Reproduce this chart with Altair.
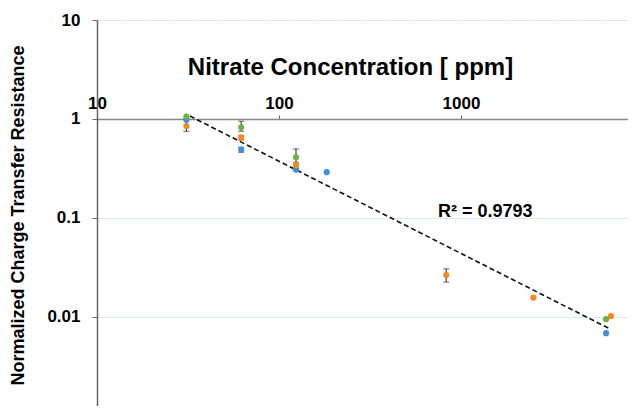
import altair as alt
import pandas as pd

# ---- data ----
blue_x = [31, 62, 124, 183, 6270]
blue_y = [0.984, 0.49, 0.308, 0.29, 0.00686]
orange_x = [31, 62, 124, 830, 2500, 6670]
orange_y = [0.85, 0.647, 0.343, 0.0265, 0.0157, 0.0102]
green_x = [31, 62, 124, 6270]
green_y = [1.055, 0.824, 0.41, 0.0095]

err_series = ["orange", "green", "orange", "blue", "green", "orange", "orange"]
err_x = [31, 62, 62, 62, 124, 124, 830]
err_lo = [0.75, 0.751, 0.614, 0.461, 0.343, 0.32, 0.0225]
err_hi = [1.0, 0.948, 0.684, 0.518, 0.498, 0.365, 0.0306]

trend_x = [32.4, 6590]
trend_y = [1.07, 0.00757]

r2_label = ["R\u00b2 = 0.9793"]
r2_x = [748]
r2_y = [0.115]

series_names = ["blue", "orange", "green"]
series_colors = ["#3d8fe0", "#f5891f", "#72b043"]

x_ticks = [10, 100, 1000]
y_ticks = [0.01, 0.1, 1, 10]

# ---- tables ----
pts = pd.DataFrame(
    {"series": ["blue"] * len(blue_x) + ["orange"] * len(orange_x) + ["green"] * len(green_x),
     "x": blue_x + orange_x + green_x,
     "y": blue_y + orange_y + green_y}
)
errs = pd.DataFrame({"series": err_series, "x": err_x, "lo": err_lo, "hi": err_hi})
trend = pd.DataFrame({"x": trend_x, "y": trend_y})
r2 = pd.DataFrame({"label": r2_label, "x": r2_x, "y": r2_y})

FONT = "Liberation Sans"

xscale = alt.Scale(type="log", domain=[10, 8275], nice=False)
yscale = alt.Scale(type="log", domain=[0.00126, 10], nice=False)

x_enc = alt.X(
    "x:Q", scale=xscale,
    axis=alt.Axis(
        orient="top", offset=-99, values=x_ticks, format="~g", grid=False,
        title="Nitrate Concentration [ ppm]", titleFont=FONT, titleFontSize=24,
        titleFontWeight="bold", titleColor="#000", titleX=253, titleY=-52,
        titleAlign="center", titleBaseline="middle",
        labelFont=FONT, labelFontSize=17, labelFontWeight="bold", labelColor="#000",
        labelFlush=False, labelPadding=3, labelOverlap=False,
        domainColor="#888", domainWidth=1.3, tickColor="#666", tickSize=4,
    ),
)
y_enc = alt.Y(
    "y:Q", scale=yscale,
    axis=alt.Axis(
        values=y_ticks, format="~g", grid=True, gridColor="#c6dcf0", gridDash=[2, 1],
        gridWidth=1,
        title="Normalized Charge Transfer Resistance", titleFont=FONT, titleFontSize=18,
        titleFontWeight="bold", titleColor="#000", titleAngle=270, titleX=-79, titleY=195,
        titleAlign="center", titleBaseline="middle",
        labelFont=FONT, labelFontSize=17, labelFontWeight="bold", labelColor="#000",
        labelPadding=12, labelFlush=False, labelOverlap=False,
        domainColor="#666", domainWidth=1.5, tickColor="#666", tickSize=5,
    ),
)

color_enc = alt.Color("series:N", scale=alt.Scale(domain=series_names, range=series_colors), legend=None)

base_trend = alt.Chart(trend).mark_line(color="#111", strokeWidth=1.6, strokeDash=[5, 3]).encode(
    x=x_enc, y=y_enc
)

err_rules = alt.Chart(errs).mark_rule(color="#444", strokeWidth=1.2).encode(
    x=alt.X("x:Q", scale=xscale), y=alt.Y("lo:Q", scale=yscale), y2="hi:Q"
)
err_lo_tick = alt.Chart(errs).mark_tick(color="#444", thickness=1.2, size=6, orient="horizontal").encode(
    x=alt.X("x:Q", scale=xscale), y=alt.Y("lo:Q", scale=yscale)
)
err_hi_tick = alt.Chart(errs).mark_tick(color="#444", thickness=1.2, size=6, orient="horizontal").encode(
    x=alt.X("x:Q", scale=xscale), y=alt.Y("hi:Q", scale=yscale)
)

points = alt.Chart(pts).mark_circle(size=38, opacity=1).encode(
    x=alt.X("x:Q", scale=xscale), y=alt.Y("y:Q", scale=yscale), color=color_enc
)

r2_text = alt.Chart(r2).mark_text(
    font=FONT, fontSize=18, fontWeight="bold", color="#000", align="left", baseline="middle"
).encode(x=alt.X("x:Q", scale=xscale), y=alt.Y("y:Q", scale=yscale), text="label:N")

chart = (
    alt.layer(base_trend, err_rules, err_lo_tick, err_hi_tick, points, r2_text)
    .properties(
        width=531, height=386,
        autosize=alt.AutoSizeParams(type="none"),
        padding={"left": 89, "top": 12, "right": 0, "bottom": 0},
        background="white",
    )
    .configure_view(stroke=None)
)

chart.save("out.html", embed_options={"renderer": "svg", "actions": False})
